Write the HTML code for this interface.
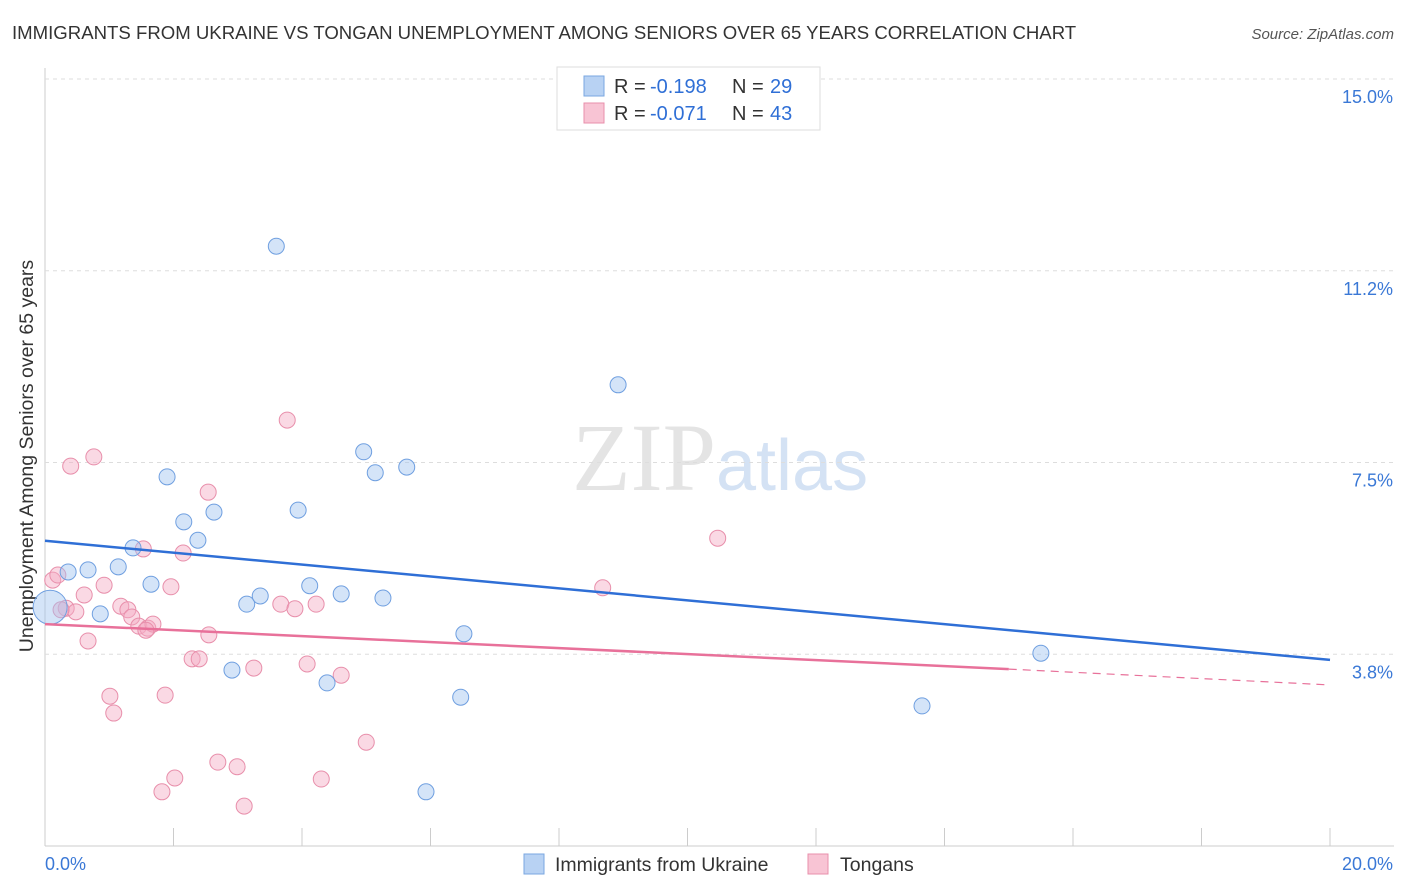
<!DOCTYPE html>
<html><head><meta charset="utf-8"><style>
body{margin:0;background:#fff;font-family:"Liberation Sans",sans-serif;}
svg{display:block}
</style></head><body>
<svg id="chart" width="1406" height="892">
<text x="12" y="39" font-size="18.6" fill="#333">IMMIGRANTS FROM UKRAINE VS TONGAN UNEMPLOYMENT AMONG SENIORS OVER 65 YEARS CORRELATION CHART</text>
<text x="1394" y="39" font-size="15" fill="#555" font-style="italic" text-anchor="end">Source: ZipAtlas.com</text>
<text x="716" y="490" font-size="96" fill="#e4e4e4" text-anchor="end" font-family="Liberation Serif,serif">ZIP</text>
<text x="716" y="490" font-size="72" fill="#d4e2f4">atlas</text>
<text transform="translate(33,456) rotate(-90)" font-size="19.5" fill="#333" text-anchor="middle">Unemployment Among Seniors over 65 years</text>
<g id="grid"></g><g id="pts"></g><g id="lines"></g>
<g>
<rect x="557" y="67" width="263" height="63" fill="#fff" stroke="#ddd"/>
<rect x="584" y="76" width="20" height="20" fill="#b8d2f3" stroke="#7aa7e0"/>
<text x="614" y="93" font-size="20" fill="#333">R =</text>
<text x="650" y="93" font-size="20" fill="#2f6fd6">-0.198</text>
<text x="732" y="93" font-size="20" fill="#333">N =</text>
<text x="770" y="93" font-size="20" fill="#2f6fd6">29</text>
<rect x="584" y="103" width="20" height="20" fill="#f8c4d4" stroke="#e88fab"/>
<text x="614" y="120" font-size="20" fill="#333">R =</text>
<text x="650" y="120" font-size="20" fill="#2f6fd6">-0.071</text>
<text x="732" y="120" font-size="20" fill="#333">N =</text>
<text x="770" y="120" font-size="20" fill="#2f6fd6">43</text>
</g>
<g>
<rect x="524" y="854" width="20" height="20" fill="#b8d2f3" stroke="#7aa7e0"/>
<text x="555" y="871" font-size="19.5" fill="#333">Immigrants from Ukraine</text>
<rect x="808" y="854" width="20" height="20" fill="#f8c4d4" stroke="#e88fab"/>
<text x="840" y="871" font-size="19.5" fill="#333">Tongans</text>
</g>
</svg>
<script>
const yTicks=[15,11.25,7.5,3.75];
const yTickLabels=["15.0%","11.2%","7.5%","3.8%"];
const xTickLabels=["0.0%","20.0%"];
const blueX=[0.08,0.36,0.67,0.86,1.14,1.37,1.65,1.90,2.16,2.38,2.63,2.91,3.14,3.35,3.60,3.94,4.12,4.39,4.61,4.96,5.14,5.26,5.63,5.93,6.47,6.52,8.92,13.65,15.50];
const blueY=[4.67,5.36,5.40,4.54,5.46,5.83,5.12,7.22,6.34,5.98,6.53,3.44,4.73,4.89,11.73,6.57,5.09,3.19,4.93,7.71,7.30,4.85,7.41,1.06,2.91,4.15,9.02,2.74,3.77];
const pinkX=[0.12,0.20,0.33,0.40,0.48,0.61,0.67,0.76,0.92,1.01,1.07,1.18,1.29,1.35,1.46,1.53,1.60,1.68,1.82,1.87,1.96,2.02,2.15,2.29,2.40,2.54,2.55,2.69,2.99,3.10,3.25,3.67,3.77,3.89,4.08,4.22,4.30,4.61,5.00,8.68,10.47,0.25,1.57];
const pinkY=[5.20,5.30,4.65,7.43,4.58,4.91,4.01,7.61,5.10,2.93,2.60,4.69,4.62,4.48,4.30,5.81,4.26,4.34,1.06,2.95,5.07,1.33,5.73,3.66,3.66,6.92,4.13,1.64,1.55,0.78,3.48,4.73,8.33,4.64,3.56,4.73,1.31,3.34,2.03,5.05,6.02,4.62,4.22];
const blueTrend=[5.97,3.64];
const pinkTrend=[4.34,3.46,3.15];
const X=v=>45+v/20*1285, Y=v=>846-v*51.13;
const NS="http://www.w3.org/2000/svg";
function mk(p,t,a){const e=document.createElementNS(NS,t);for(const k in a)e.setAttribute(k,a[k]);p.appendChild(e);return e;}
const g=document.getElementById('grid');
let ax=mk(g,'line',{x1:45,y1:68,x2:45,y2:846,stroke:'#ccc'});


let bx=mk(g,'line',{x1:45,y1:846,x2:1394,y2:846,stroke:'#ccc'});


yTicks.forEach((v,i)=>{
 const l=mk(g,'line',{x1:45,y1:Y(v),x2:1394,y2:Y(v),stroke:'#ddd','stroke-dasharray':'4,4'});
 
 
 const t=mk(g,'text',{x:1393,y:Y(v)+24,'font-size':18,fill:'#3a78d6','text-anchor':'end'});
 t.textContent=yTickLabels[i];
 
 
});
for(let i=0;i<=10;i++){
 const l=mk(g,'line',{x1:X(i*2),y1:828,x2:X(i*2),y2:846,stroke:'#ccc'});
 
 
}
[[0,45,'start'],[20,1393,'end']].forEach((d,i)=>{
 const t=mk(g,'text',{x:d[1],y:870,'font-size':18,fill:'#3a78d6','text-anchor':d[2]});
 t.textContent=xTickLabels[i];
 
 
});
const p=document.getElementById('pts');
pinkX.forEach((x,i)=>{
 const c=mk(p,'circle',{cx:X(x),cy:Y(pinkY[i]),r:8,fill:'rgba(244,170,196,0.45)',stroke:'#e88fab','stroke-width':1});
 
 
});
blueX.forEach((x,i)=>{
 const c=mk(p,'circle',{cx:X(x),cy:Y(blueY[i]),r:i==0?17:8,fill:'rgba(160,196,240,0.45)',stroke:'#6f9fe0','stroke-width':1});
 
 
});
const L=document.getElementById('lines');
let b=mk(L,'line',{x1:X(0),y1:Y(blueTrend[0]),x2:X(20),y2:Y(blueTrend[1]),stroke:'#2f6fd6','stroke-width':2.5});


let k=mk(L,'line',{x1:X(0),y1:Y(pinkTrend[0]),x2:X(15),y2:Y(pinkTrend[1]),stroke:'#e8719a','stroke-width':2.5});


let kd=mk(L,'line',{x1:X(15),y1:Y(pinkTrend[1]),x2:X(20),y2:Y(pinkTrend[2]),stroke:'#e8719a','stroke-width':1.2,'stroke-dasharray':'8,6'});


</script>
</body></html>
